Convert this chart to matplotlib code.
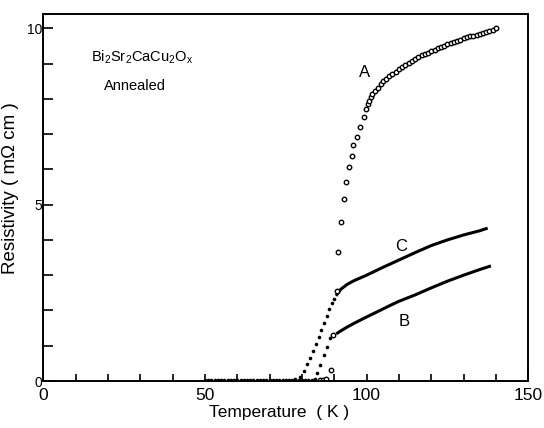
import matplotlib
matplotlib.use('Agg')
import matplotlib.pyplot as plt

plt.rcParams['font.family'] = ['Liberation Sans', 'DejaVu Sans']
plt.rcParams['mathtext.fontset'] = 'custom'
plt.rcParams['mathtext.rm'] = 'Liberation Sans'

# curve A (open circles)
temp_a = [85.5, 86.5, 87.5, 88.9, 90.7, 91.1, 92.2, 92.9, 93.7, 94.4, 95.4, 95.9,
          97.0, 98.1, 99.1, 99.7, 100.3, 100.8, 101.3, 101.8, 102.5, 103.4, 104.3,
          105.1, 106, 107, 108, 109, 110, 111, 112, 113, 114, 115, 116, 117, 118,
          119, 120, 121, 122, 123, 124, 125, 126, 127, 128, 129, 130, 131, 132,
          133, 134, 135, 136, 137, 138, 139, 140]
rho_a = [0.02, 0.03, 0.05, 0.31, 2.55, 3.66, 4.51, 5.15, 5.64, 6.06, 6.39, 6.69,
         6.91, 7.19, 7.47, 7.71, 7.85, 7.95, 8.05, 8.13, 8.22, 8.32, 8.42,
         8.50, 8.57, 8.64, 8.71, 8.77, 8.84, 8.90, 8.96, 9.02, 9.08, 9.14, 9.19,
         9.23, 9.27, 9.31, 9.35, 9.39, 9.43, 9.47, 9.51, 9.55, 9.59, 9.62, 9.65,
         9.68, 9.71, 9.74, 9.77, 9.79, 9.82, 9.85, 9.87, 9.90, 9.93, 9.96, 10.0]

# curve C: dots in transition, solid line above
temp_c_dots = [50, 51, 52, 53, 54, 55, 56, 57, 58, 59, 60, 61, 62, 63, 64, 65, 66,
               67, 68, 69, 70, 71, 72, 73, 74, 75, 76, 77, 78, 79.5, 80.5, 81.5,
               82.6, 83.5, 84.3, 85.2, 86.0, 86.8, 87.6, 88.5, 89.3, 90.0]
rho_c_dots = [0.03] * 28 + [0.05, 0.12, 0.28, 0.47,
                             0.66, 0.86, 1.05, 1.25, 1.45, 1.65, 1.85, 2.03, 2.20, 2.33]
temp_c_line = [90.8, 92, 94, 96, 100, 105, 110, 115, 120, 125, 130, 135, 137]
rho_c_line = [2.45, 2.60, 2.74, 2.84, 3.00, 3.22, 3.43, 3.64, 3.84, 4.00, 4.14, 4.26, 4.32]

# curve B
temp_b_dots = [78, 79, 80, 81, 82, 83, 84.0, 84.6, 85.7, 86.7, 87.7, 88.6]
rho_b_dots = [0.03, 0.03, 0.03, 0.03, 0.03, 0.03, 0.05, 0.22, 0.45, 0.73, 0.97, 1.21]
temp_b_line = [91, 92, 94, 96, 99, 103, 107, 110, 115, 120, 125, 130, 135, 138]
rho_b_line = [1.36, 1.42, 1.53, 1.63, 1.77, 1.95, 2.13, 2.26, 2.44, 2.64, 2.83, 3.00, 3.16, 3.25]
temp_b_circ = [89.7]
rho_b_circ = [1.30]

fig = plt.figure(figsize=(5.44, 4.28), dpi=100)
ax = fig.add_axes([0.0796, 0.1098, 0.8915, 0.8572])

ax.plot(temp_c_dots, rho_c_dots, 'o', color='black', ms=2.6, mew=0)
ax.plot(temp_c_line, rho_c_line, '-', color='black', lw=2.2)
ax.plot(temp_b_dots, rho_b_dots, 'o', color='black', ms=2.6, mew=0)
ax.plot(temp_b_line, rho_b_line, '-', color='black', lw=2.2)
ax.plot(temp_b_circ, rho_b_circ, 'o', mfc='white', mec='black', ms=3.2, mew=1.0)
ax.plot(temp_a, rho_a, 'o', mfc='white', mec='black', ms=3.2, mew=1.0)

ax.set_xlim(0, 150)
ax.set_ylim(0, 10.4)
ax.set_xticks([0, 50, 100, 150])
ax.set_xticks(range(0, 151, 10), minor=True)
ax.set_yticks([0, 5, 10])
ax.set_yticks(range(0, 11), minor=True)
ax.tick_params(axis='x', which='both', direction='in', length=5, width=1.2,
               labelsize=12.5, pad=5)
ax.tick_params(axis='y', which='both', direction='in', length=7, width=1.2,
               labelsize=10, pad=1)
for s in ax.spines.values():
    s.set_linewidth(1.4)

ax.set_xlabel('Temperature  ( K )', fontsize=12.5)
ax.xaxis.set_label_coords(0.486, -0.066)
ax.set_ylabel('Resistivity ( m\u03a9 cm )', fontsize=13.5)
ax.yaxis.set_label_coords(-0.05, 0.525)

ax.text(14.8, 9.19, r'$\mathregular{Bi_2 Sr_2 CaCu_2 O_x}$', fontsize=10.5, va='center')
ax.text(18.9, 8.37, 'Annealed', fontsize=10.5, va='center')
ax.text(99.5, 8.75, 'A', fontsize=12, ha='center', va='center')
ax.text(110.6, 3.82, 'C', fontsize=12, ha='center', va='center')
ax.text(111.5, 1.70, 'B', fontsize=12, ha='center', va='center')

fig.savefig('out.png', dpi=100)
